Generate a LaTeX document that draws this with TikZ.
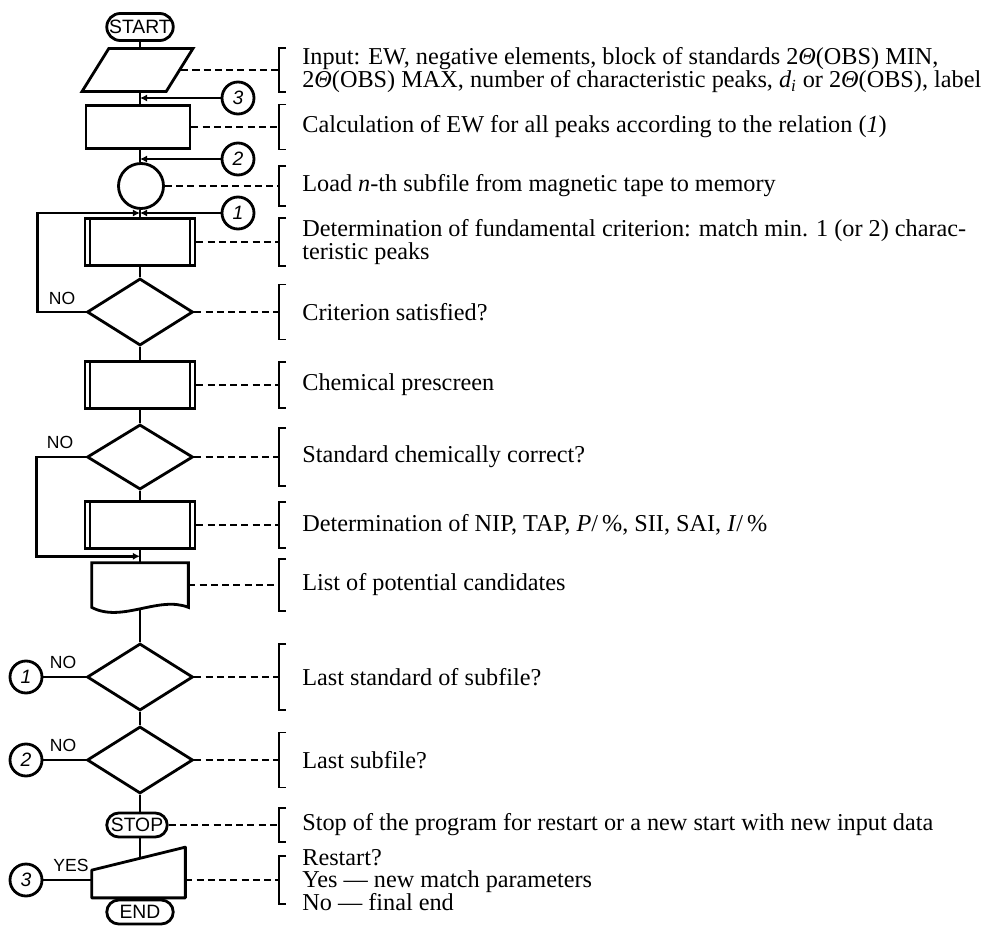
\documentclass[tikz,border=0pt]{standalone}
\usepackage{fontspec}
\setmainfont{Liberation Serif}
\newfontfamily\flowfont{Liberation Sans}
\usetikzlibrary{positioning,arrows.meta,shapes.geometric,shapes.misc,calc}

\begin{document}
\begin{tikzpicture}[x=0.02cm, y=-0.02cm,
  linea/.style={line width=1.6pt},
  caja/.style={draw, line width=1.6pt, fill=white, minimum width=2.08cm,
               minimum height=0.86cm, inner sep=0pt},
  subr/.style={caja, minimum width=2.2cm, minimum height=0.94cm},
  decis/.style={draw, diamond, line width=1.6pt, fill=white,
                minimum width=2.12cm, minimum height=1.34cm, inner sep=0pt},
  termi/.style={draw, rounded rectangle, line width=1.6pt, fill=white,
                minimum height=0.48cm, inner sep=1pt,
                font=\flowfont\fontsize{11}{12}\selectfont},
  conec/.style={draw, circle, line width=1.6pt, fill=white, minimum size=0.64cm,
                inner sep=0pt, font=\flowfont\itshape\fontsize{11}{12}\selectfont},
  rotulo/.style={font=\flowfont\fontsize{10}{11}\selectfont, inner sep=0pt},
  texto/.style={anchor=west, align=left, inner sep=0pt,
                font=\fontsize{13.8}{13}\selectfont},
  enlace/.style={dash pattern=on 4pt off 2.4pt, line width=1.1pt},
  union/.style={line width=1.6pt, -{Latex[length=4pt,width=4pt]}}]
  \useasboundingbox (0,0) rectangle (990,939);
  % Diagrama de flujo
  \node[termi, minimum width=1.4cm, minimum height=0.54cm] (start) at (140,27) {START};
  \node[draw, trapezium, trapezium left angle=65, trapezium right angle=115,
        trapezium stretches=true, line width=1.6pt, fill=white,
        minimum width=2.22cm, minimum height=0.86cm, inner sep=2pt]
        (input) at (137.5,70) {};
  \node[caja] (calc) at (138,127) {};
  \node[draw, circle, line width=1.6pt, fill=white, minimum size=0.9cm,
        inner sep=0pt] (load) at (141,186) {};
  \node[subr] (crit) at (140,242) {};
  \node[decis] (sat) at (140,312) {};
  \node[subr] (chem) at (140,385) {};
  \node[decis, minimum height=1.3cm] (corr) at (140,457) {};
  \node[subr] (nip) at (140,525) {};
  \node[minimum width=1.92cm, minimum height=0.88cm, inner sep=0pt] (lista) at (140,585) {};
  \node[decis] (ultstd) at (140,677) {};
  \node[decis] (ultsub) at (140,760) {};
  \node[termi, minimum width=1.28cm] (stop) at (137,825) {STOP};
  \node[minimum width=1.86cm, minimum height=0.7cm, inner sep=0pt] (restart) at (138.5,880) {};
  \node[termi, minimum width=1.4cm] (end) at (140,912) {END};
  % Conectores
  \node[conec] (c3) at (238,98) {3};
  \node[conec] (c2) at (238,159) {2};
  \node[conec] (c1) at (238,213) {1};
  \node[conec] (l1) at (26,677) {1};
  \node[conec] (l2) at (26,760) {2};
  \node[conec] (l3) at (26,880) {3};
  % Lineas principales
  \foreach \a/\b in {start/input, input/calc, calc/load, load/crit, crit/sat,
      sat/chem, chem/corr, corr/nip, nip/lista, lista/ultstd,
      ultstd/ultsub, ultsub/stop, restart/end}
    \draw[linea] (start |- \a.south) -- (start |- \b.north);
  \draw[linea] (start |- stop.south) -- (start |- restart.center);
  \draw[union] (c3.west) -- (c3.west -| start);
  \draw[union] (c2.west) -- (c2.west -| start);
  \draw[union] (c1.west) -- (c1.west -| start);
  \draw[union] (sat.west) -- ++(-48,0) |- (c1.west -| start);
  \draw[union] (corr.west) -- ++(-49,0) |- ($(nip.south)!0.5!(lista.north)$);
  \draw[linea] (l1) -- (ultstd.west);
  \draw[linea] (l2) -- (ultsub.west);
  \draw[linea] (l3) -- (l3 -| restart.west);
  \node[rotulo] (no1) at (62,298) {NO};
  \node[rotulo] (no2) at (60,442) {NO};
  \node[rotulo] (no3) at (63,662) {NO};
  \node[rotulo] (no4) at (63,745) {NO};
  \node[rotulo] (si) at (71,865) {YES};
  % Formas dibujadas a mano
  \foreach \nm in {crit,chem,nip}{
    \draw[line width=1.1pt] ($(\nm.north west)+(6,0)$) -- ($(\nm.south west)+(6,0)$);
    \draw[line width=1.1pt] ($(\nm.north east)+(-6,0)$) -- ($(\nm.south east)+(-6,0)$);
  }
  \draw[linea, fill=white] (lista.south west) -- (lista.north west) -- (lista.north east)
    -- (lista.south east) .. controls +(-30,-12) and +(30,16) .. (lista.south west) -- cycle;
  \draw[linea, fill=white, line join=round] (restart.south west) -- ($(restart.north west)+(0,8)$)
    -- ($(restart.north east)+(0,-15)$) -- (restart.south east) -- cycle;
  % Llaves y textos
  \coordinate (llave) at (279,0);
  \coordinate (txt) at (302,0);
  \foreach \nm/\hh/\lin in {
      input/22/{Input: EW, negative elements, block of standards 2\textit{Θ}(OBS) MIN,\\
        2\textit{Θ}(OBS) MAX, number of characteristic peaks, \textit{d\textsubscript{i}} or 2\textit{Θ}(OBS), label},
      calc/22.5/{Calculation of EW for all peaks according to the relation (\textit{1})},
      load/20/{Load \textit{n}-th subfile from magnetic tape to memory},
      crit/24/{Determination of fundamental criterion: match min. 1 (or 2) charac-\\teristic peaks},
      sat/27.5/{Criterion satisfied?},
      chem/23/{Chemical prescreen},
      corr/29/{Standard chemically correct?},
      nip/23/{Determination of NIP, TAP, \textit{P}/\,\%, SII, SAI, \textit{I}/\,\%},
      lista/26/{List of potential candidates},
      ultstd/33/{Last standard of subfile?},
      ultsub/27.5/{Last subfile?},
      stop/17/{Stop of the program for restart or a new start with new input data},
      restart/24/{Restart?\\Yes --- new match parameters\\No --- final end}}{
    \draw[enlace] (\nm.east) -- (\nm.east -| llave);
    \draw[line width=1.1pt] ($(\nm.east -| llave)+(7,-\hh)$) -- ++(-7,0)
      -- ++(0,2*\hh) -- ++(7,0);
    \node[texto] (t-\nm) at (\nm.east -| txt) {\lin};
  }
\end{tikzpicture}
\end{document}
